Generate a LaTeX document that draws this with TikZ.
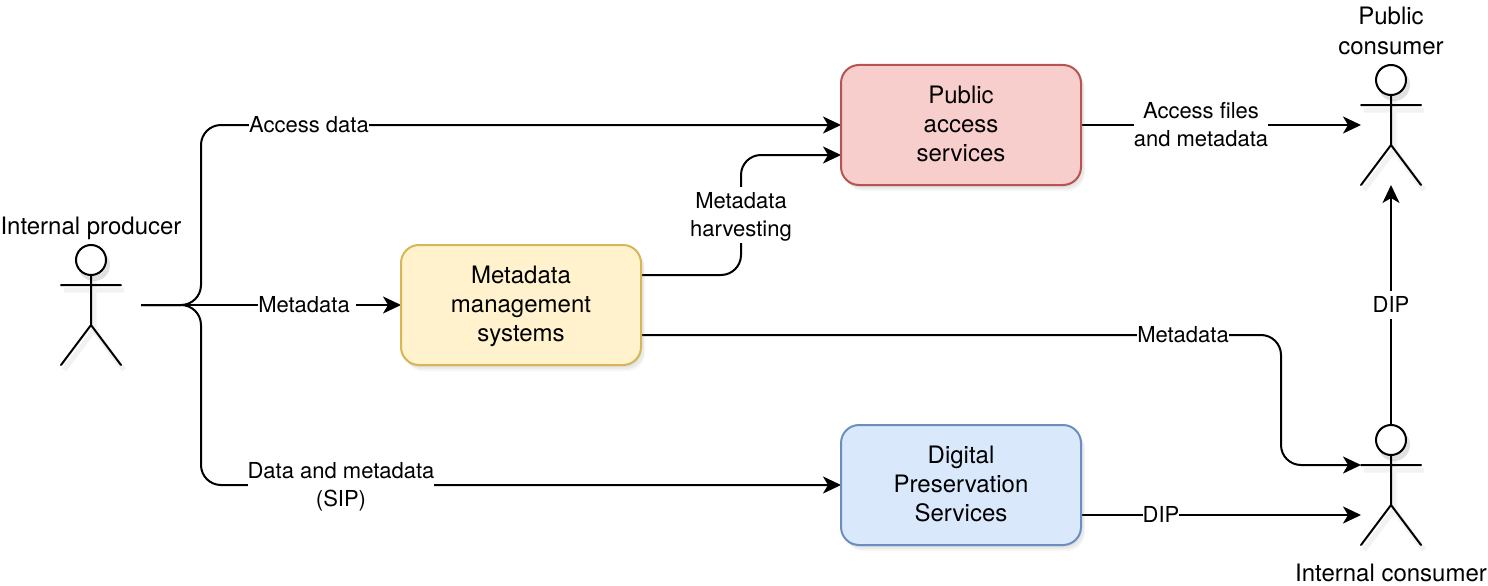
\documentclass[tikz,border=0pt]{standalone}
\usepackage{fontspec}
\setmainfont{TeX Gyre Heros}
\usetikzlibrary{arrows.meta, shadows, backgrounds}

\definecolor{pinkfill}{HTML}{F8CECC}
\definecolor{pinkline}{HTML}{B85450}
\definecolor{yellowfill}{HTML}{FFF2CC}
\definecolor{yellowline}{HTML}{D6B656}
\definecolor{bluefill}{HTML}{DAE8FC}
\definecolor{blueline}{HTML}{6C8EBF}

\tikzset{
    softshadow/.style={
        drop shadow={shadow xshift=1pt, shadow yshift=-2pt, opacity=.10},
        drop shadow={shadow xshift=3pt, shadow yshift=-4pt, opacity=.10},
        drop shadow={shadow xshift=4pt, shadow yshift=-6pt, opacity=.07}},
    service/.style={draw, line width=2pt, rounded corners=18pt, softshadow, align=center,
        minimum width=240pt, minimum height=120pt, inner sep=0pt, outer sep=0pt,
        font=\fontsize{24}{29}\selectfont},
    actorbox/.style={minimum width=60pt, minimum height=120pt, inner sep=0pt, outer sep=0pt},
    actorname/.style={align=center, inner sep=0pt, font=\fontsize{24}{30}\selectfont},
    edgelabel/.style={fill=white, align=center, inner sep=0pt, font=\fontsize{22}{28}\selectfont},
    tip/.style={-{Stealth[length=18pt, width=17pt, inset=5pt]}},
    link/.style={line width=2pt, rounded corners=20pt, tip},
    thinlink/.style={line width=1.2pt},
    stickshade/.style={line width=5pt, draw=black, opacity=.05},
    stick/.style={line width=2pt, line cap=round},
}

% line height with the text a little lower than \strut puts it
\newcommand{\lstrut}{\vrule height .77\baselineskip depth .23\baselineskip width 0pt\relax}

% stick figure on top of an actorbox node
\newcommand{\stickfigure}[1]{
    \begin{scope}[shift={(#1.center)}]
        \begin{scope}[shift={(3,5)}]
            \fill[black, opacity=.12] (0,-45) circle (16pt);
            \draw[stickshade] (-30,-20) -- (30,-20) (0,-30) -- (0,20) (-30,60) -- (0,20) -- (30,60);
        \end{scope}
        \draw[stick, fill=white] (0,-45) circle (15pt);
        \draw[stick] (-30,-20) -- (30,-20) (0,-30) -- (0,20) (-30,60) -- (0,20) -- (30,60);
    \end{scope}
}

\begin{document}
\begin{tikzpicture}[x=1pt, y=-1pt]
    \useasboundingbox (0,0) rectangle (1488,586);

    % Services
    \node[service, fill=pinkfill, draw=pinkline] (public) at (961,125) {\lstrut Public\\\lstrut access\\\lstrut services};
    \node[service, fill=yellowfill, draw=yellowline] (mms) at (521,305) {\lstrut Metadata\\\lstrut management\\\lstrut systems};
    \node[service, fill=bluefill, draw=blueline] (dps) at (961,485) {\lstrut Digital\\\lstrut Preservation\\\lstrut Services};

    % Actors
    \node[actorbox] (producer) at (91,305) {};
    \node[actorbox] (pubcons) at (1391,125) {};
    \node[actorbox] (intcons) at (1391,485) {};
    \stickfigure{producer}
    \stickfigure{pubcons}
    \stickfigure{intcons}

    \node[actorname] (producername) at (91,226) {\lstrut Internal producer};
    \node[actorname] (pubconsname) at (1391,31.5) {\lstrut Public\\\lstrut consumer};
    \node[actorname] (intconsname) at (1391,573) {\lstrut Internal consumer};

    % Branching start of the producer's links
    \coordinate (start) at ([xshift=20pt]producer.east);
    \coordinate (split) at (201,305);

    % Labels on the links
    \node[edgelabel] (accessdata) at (309,125) {\lstrut Access data};
    \node[edgelabel] (metadataa) at (307,305) {\lstrut Metadata\hspace{6pt}};
    \node[edgelabel] (sip) at (341,485) {\lstrut Data and metadata\\\lstrut (SIP)};
    \node[edgelabel] (harvest) at (741,215) {\lstrut Metadata\\\lstrut harvesting};
    \node[edgelabel] (metadatab) at (1183,335) {\lstrut Metadata};
    \node[edgelabel] (accessfiles) at (1201,125) {\lstrut Access files\\\lstrut and metadata};
    \node[edgelabel] (dipa) at (1161,515) {\lstrut DIP};
    \node[edgelabel] (dipb) at (1391,305) {\lstrut DIP};

    % Links, behind the labels
    \begin{scope}[on background layer]
        \draw[link] (start) -- (split) -- (split |- public.west) -- (public.west);
        \draw[thinlink] (start) -- (metadataa.west);
        \draw[link] (metadataa.east) -- (mms.west);
        \draw[link] (start) -- (split) -- (split |- dps.west) -- (dps.west);

        \draw[link] ([yshift=30pt]mms.east) -| (harvest.center) |- ([yshift=-30pt]public.west);
        \draw[link] ([yshift=-30pt]mms.east) -| (1281,400) |- ([yshift=20pt]intcons.west);
        \draw[link] (public.east) -- (pubcons.west);
        \draw[link] ([yshift=-30pt]dps.east) -- ([yshift=-30pt]intcons.west);
        \draw[link] (intcons.north) -- (pubcons.south);
    \end{scope}
\end{tikzpicture}
\end{document}
